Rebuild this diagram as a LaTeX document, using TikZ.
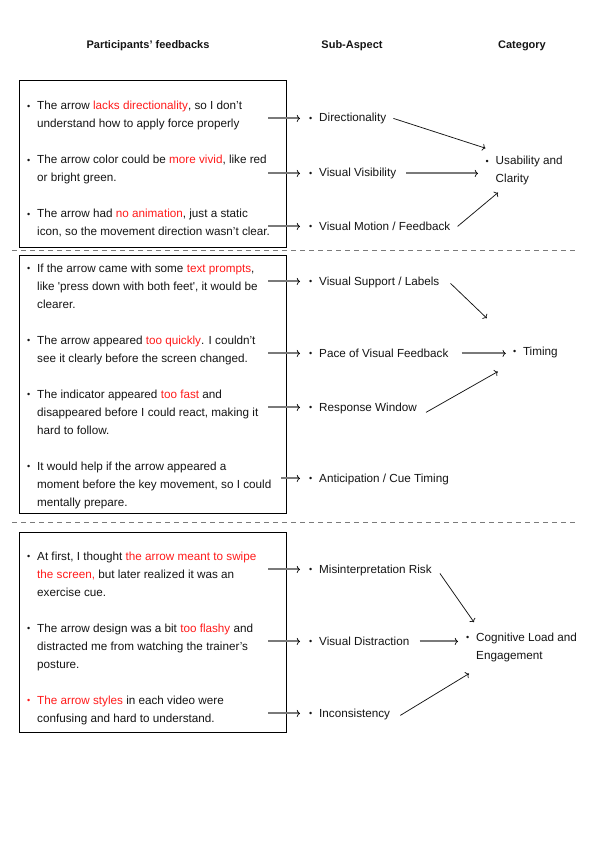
\documentclass[tikz,border=0pt]{standalone}
\usepackage{fontspec}
\setmainfont{Liberation Sans}
\usetikzlibrary{arrows.meta,calc}

\definecolor{txt}{HTML}{141414}
\definecolor{hlred}{HTML}{FF1A1A}
\definecolor{feedgray}{HTML}{7A7A7A}

\newcommand{\redtxt}[1]{\textcolor{hlred}{#1}}
\newcommand{\itemdot}[1][txt]{\makebox[10pt][l]{\textcolor{#1}{\raisebox{0.8pt}{\fontsize{9}{9}\selectfont\textbullet}}}}
\newcommand{\asp}[1]{\begin{tabular}[t]{@{}l@{}l@{}}\itemdot & #1\end{tabular}}

\begin{document}
\begin{tikzpicture}[x=1pt,y=-1pt,
    every node/.style={font=\fontsize{11.7}{18}\selectfont, text=txt},
    fbtext/.style={inner sep=0pt, anchor=base west},
    head/.style={font=\fontsize{11}{13}\selectfont\bfseries, anchor=base},
    fbbox/.style={draw, line width=1pt, anchor=north west, minimum width=267pt, inner sep=0pt},
    feed/.style={color=feedgray, line width=2pt, -{To[length=3.2pt,width=7pt,color=black,line width=0.7pt]}, shorten >=9pt},
    link/.style={draw=txt, line width=0.75pt, -{To[length=3.2pt,width=7pt]}},
    sep/.style={draw=feedgray, line width=0.8pt, dash pattern=on 5pt off 4pt}]
    \useasboundingbox (0,0) rectangle (595,842);

    %Overskrifter
        \node[head] (hfb) at (148,49) {Participants’ feedbacks};
        \node[head] (hsub) at (352,49) {Sub-Aspect};
        \node[head] (hcat) at (522,49) {Category};

    %Bokser
        \node[fbbox, minimum height=167pt] (box1) at (19,80) {};
        \node[fbbox, minimum height=258pt] (box2) at (19,255) {};
        \node[fbbox, minimum height=200pt] (box3) at (19,532) {};
        \draw[sep] (12,250) -- (578,250);
        \draw[sep] (12,522) -- (578,522);

    %Usability
        \node[fbtext] (fb1) at (27,110) {\begin{tabular}[t]{@{}l@{}l@{}}\itemdot & The arrow \redtxt{lacks directionality}, so I don’t\\ & understand how to apply force properly\end{tabular}};
        \node[fbtext] (fb2) at (27,164) {\begin{tabular}[t]{@{}l@{}l@{}}\itemdot & The arrow color could be \redtxt{more vivid}, like red\\ & or bright green.\end{tabular}};
        \node[fbtext] (fb3) at (27,218) {\begin{tabular}[t]{@{}l@{}l@{}}\itemdot & The arrow had \redtxt{no animation}, just a static\\ & icon, so the movement direction wasn’t clear.\end{tabular}};

        \node[fbtext] (dir) at (309,122) {\asp{Directionality}};
        \node[fbtext] (vis) at (309,177) {\asp{Visual Visibility}};
        \node[fbtext] (mot) at (309,230) {\asp{Visual Motion / Feedback}};
        \node[fbtext] (use) at (485.5,165) {\begin{tabular}[t]{@{}l@{}l@{}}\itemdot & Usability and\\ & Clarity\end{tabular}};

        \draw[feed] ($(box1.east |- dir.west)+(-19,0)$) -- (dir.west);
        \draw[feed] ($(box1.east |- vis.west)+(-19,0)$) -- (vis.west);
        \draw[feed] ($(box1.east |- mot.west)+(-19,0)$) -- (mot.west);
        \draw[link] ([xshift=7pt]dir.east) -- ([yshift=4pt]use.north west);
        \draw[feed, shorten <=10pt, shorten >=7.5pt] (vis.east) -- (vis.east -| use.west);
        \draw[link] ([xshift=7pt]mot.east) -- ([xshift=12.5pt,yshift=-4pt]use.south west);

    %Timing
        \node[fbtext] (fb4) at (27,272) {\begin{tabular}[t]{@{}l@{}l@{}}\itemdot & If the arrow came with some \redtxt{text prompts},\\ & like \textquotesingle press down with both feet\textquotesingle, it would be\\ & clearer.\end{tabular}};
        \node[fbtext] (fb5) at (27,344) {\begin{tabular}[t]{@{}l@{}l@{}}\itemdot & The arrow appeared \redtxt{too quickly}. I couldn’t\\ & see it clearly before the screen changed.\end{tabular}};
        \node[fbtext] (fb6) at (27,398) {\begin{tabular}[t]{@{}l@{}l@{}}\itemdot & The indicator appeared \redtxt{too fast} and\\ & disappeared before I could react, making it\\ & hard to follow.\end{tabular}};
        \node[fbtext] (fb7) at (27,470) {\begin{tabular}[t]{@{}l@{}l@{}}\itemdot & It would help if the arrow appeared a\\ & moment before the key movement, so I could\\ & mentally prepare.\end{tabular}};

        \node[fbtext] (lab) at (309,285) {\asp{Visual Support / Labels}};
        \node[fbtext] (pace) at (309,357) {\asp{Pace of Visual Feedback}};
        \node[fbtext] (resp) at (309,411) {\asp{Response Window}};
        \node[fbtext] (anti) at (309,482) {\asp{Anticipation / Cue Timing}};
        \node[fbtext] (tim) at (512.8,355) {\asp{Timing}};

        \draw[feed] ($(box2.east |- lab.west)+(-19,0)$) -- (lab.west);
        \draw[feed] ($(box2.east |- pace.west)+(-19,0)$) -- (pace.west);
        \draw[feed] ($(box2.east |- resp.west)+(-19,0)$) -- (resp.west);
        \draw[feed] ($(box2.east |- anti.west)+(-6,0)$) -- (anti.west);
        \draw[link] ([xshift=11pt,yshift=-2pt]lab.east) -- ([xshift=-26pt,yshift=24pt]tim.north west);
        \draw[feed, shorten <=13pt, shorten >=7pt] (pace.east) -- (pace.east -| tim.west);
        \draw[link] ([xshift=9pt,yshift=-5pt]resp.east) -- ([xshift=-15pt,yshift=-11pt]tim.south west);

    %Cognitive
        \node[fbtext] (fb8) at (27,560) {\begin{tabular}[t]{@{}l@{}l@{}}\itemdot & At first, I thought \redtxt{the arrow meant to swipe}\\ & \redtxt{the screen,} but later realized it was an\\ & exercise cue.\end{tabular}};
        \node[fbtext] (fb9) at (27,632) {\begin{tabular}[t]{@{}l@{}l@{}}\itemdot & The arrow design was a bit \redtxt{too flashy} and\\ & distracted me from watching the trainer’s\\ & posture.\end{tabular}};
        \node[fbtext] (fb10) at (27,704) {\begin{tabular}[t]{@{}l@{}l@{}}\itemdot[hlred] & \redtxt{The arrow styles} in each video were\\ & confusing and hard to understand.\end{tabular}};

        \node[fbtext] (mis) at (309,573) {\asp{Misinterpretation Risk}};
        \node[fbtext] (dis) at (309,645) {\asp{Visual Distraction}};
        \node[fbtext] (inc) at (309,717) {\asp{Inconsistency}};
        \node[fbtext] (cog) at (466,641) {\begin{tabular}[t]{@{}l@{}l@{}}\itemdot & Cognitive Load and\\ & Engagement\end{tabular}};

        \draw[feed] ($(box3.east |- mis.west)+(-19,0)$) -- (mis.west);
        \draw[feed] ($(box3.east |- dis.west)+(-19,0)$) -- (dis.west);
        \draw[feed] ($(box3.east |- inc.west)+(-19,0)$) -- (inc.west);
        \draw[link] ([xshift=8pt,yshift=-4pt]mis.east) -- ([xshift=8pt,yshift=6pt]cog.north west);
        \draw[feed, shorten <=10pt, shorten >=8pt] (dis.east) -- (dis.east -| cog.west);
        \draw[link] ([xshift=10pt,yshift=-2pt]inc.east) -- ([xshift=3pt,yshift=-9pt]cog.south west);
\end{tikzpicture}
\end{document}
